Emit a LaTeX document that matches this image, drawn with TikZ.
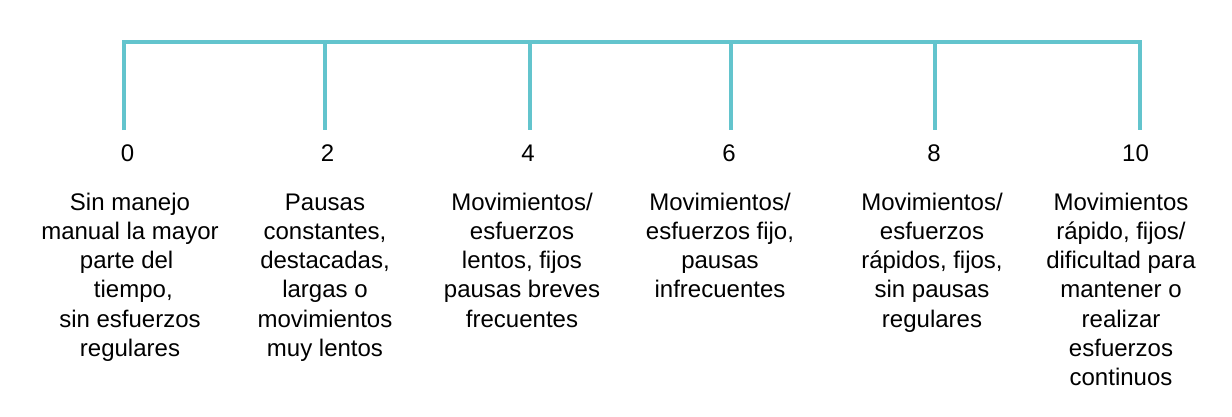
\documentclass[tikz,border=0pt]{standalone}
\usepackage{fontspec}
\setmainfont{Liberation Sans}
\definecolor{barcyan}{RGB}{99,196,205}
\newcommand{\colx}[1]{\begin{tabular}[t]{@{}c@{}}#1\end{tabular}}
\newcommand{\padsp}{\kern0.278em}
\begin{document}
\begin{tikzpicture}[x=1pt,y=-1pt,
  bar/.style={draw=barcyan,line width=4pt,line join=miter},
  num/.style={anchor=base,inner sep=0pt,font=\fontsize{24}{29.3}\selectfont},
  desc/.style={anchor=base,inner sep=0pt,font=\fontsize{24}{29.3}\selectfont}]
\useasboundingbox (0,0) rectangle (1232,416);
% tick coordinates
\coordinate (t0) at (123.7,42); \coordinate (b0) at (123.7,130);
\coordinate (t1) at (325.3,42); \coordinate (b1) at (325.3,130);
\coordinate (t2) at (529.7,42); \coordinate (b2) at (529.7,130);
\coordinate (t3) at (731,42);   \coordinate (b3) at (731,130);
\coordinate (t4) at (935.3,42); \coordinate (b4) at (935.3,130);
\coordinate (t5) at (1140,42);  \coordinate (b5) at (1140,130);
\draw[bar] (b0) -- (t0) -- (t5) -- (b5);
\draw[bar] (t1) -- (b1);
\draw[bar] (t2) -- (b2);
\draw[bar] (t3) -- (b3);
\draw[bar] (t4) -- (b4);
% numbers
\node[num] (n0) at (127.5,161) {0};
\node[num] (n1) at (327.5,161) {2};
\node[num] (n2) at (528,161) {4};
\node[num] (n3) at (729,161) {6};
\node[num] (n4) at (934,161) {8};
\node[num] (n5) at (1135.5,161) {10};
% descriptions
\node[desc] (d0) at (130,210) {\colx{Sin manejo\\manual la mayor\\parte del\padsp\\\padsp tiempo,\\sin esfuerzos\\regulares}};
\node[desc] (d1) at (325,210) {\colx{Pausas\\constantes,\\destacadas,\\largas o\\movimientos\\muy lentos}};
\node[desc] (d2) at (522,210) {\colx{Movimientos/\\esfuerzos\\lentos, fijos\\pausas breves\\frecuentes}};
\node[desc] (d3) at (720,210) {\colx{Movimientos/\\esfuerzos fijo,\\pausas\\infrecuentes}};
\node[desc] (d4) at (932,210) {\colx{Movimientos/\\esfuerzos\\rápidos, fijos,\\sin pausas\\regulares}};
\node[desc] (d5) at (1121,210) {\colx{Movimientos\\rápido, fijos/\\dificultad para\\mantener o\\realizar\\esfuerzos\\continuos}};
\end{tikzpicture}
\end{document}
